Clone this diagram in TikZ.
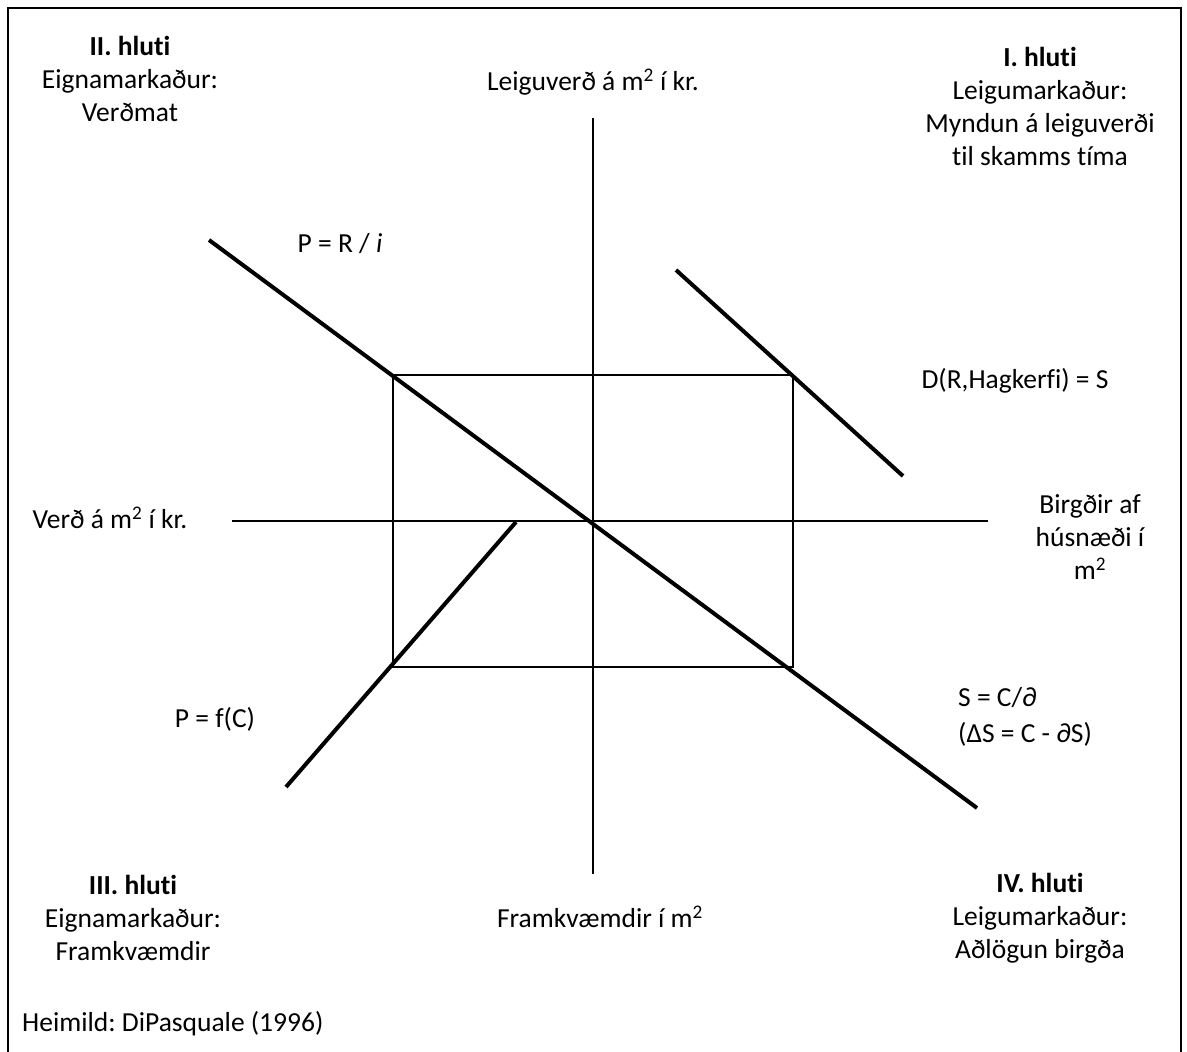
\documentclass[tikz,border=0pt]{standalone}
\usepackage{fontspec}
\setmainfont[Ligatures={NoCommon}]{Carlito}
\frenchspacing
\begin{document}
\begin{tikzpicture}[x=1pt,y=-1pt,
  lbl/.style={inner sep=0pt,align=center,font=\fontsize{27.5}{33}\selectfont},
  lbll/.style={inner sep=0pt,anchor=west,font=\fontsize{27.5}{33}\selectfont},
  axis/.style={line width=1.4pt},
  box/.style={line width=1.4pt},
  curve/.style={line width=4pt},
  frame/.style={line width=2pt}]
\useasboundingbox (0,0) rectangle (1187,1052);
% frame (open at bottom)
\draw[frame] (8,1052) -- (8,8) -- (1181,8) -- (1181,1052);
% axes
\coordinate (vtop) at (593,118);
\coordinate (vbot) at (593,874);
\coordinate (hl) at (232,521);
\coordinate (hr) at (988,521);
\draw[axis] (vtop) -- (vbot);
\draw[axis] (hl) -- (hr);
% rectangle
\coordinate (r1) at (393,375);
\coordinate (r2) at (793,667);
\draw[box] (r1) rectangle (r2);
% thick lines
\coordinate (pa) at (209,240);
\coordinate (pb) at (977,808);
\draw[curve] (pa) -- (pb);
\coordinate (da) at (676,270);
\coordinate (db) at (903,476);
\draw[curve] (da) -- (db);
\coordinate (fa) at (286,787);
\coordinate (fb) at (516,522);
\draw[curve] (fa) -- (fb);
% quadrant labels
\node[lbl] (q2) at (130,79) {\textbf{II. hluti}\\Eignamarkaður:\\Verðmat};
\node[lbl] (q1) at (1040,106) {\textbf{I. hluti}\\Leigumarkaður:\\Myndun á leiguverði\\til skamms tíma};
\node[lbl] (q3) at (133,918) {\textbf{III. hluti}\\Eignamarkaður:\\Framkvæmdir};
\node[lbl] (q4) at (1040,918) {\textbf{IV. hluti}\\Leigumarkaður:\\Aðlögun birgða};
% axis labels
\node[lbl] (ytop) at (593,82) {Leiguverð á m\textsuperscript{2} í kr.};
\node[lbl] (ybot) at (600,917) {Framkvæmdir í m\textsuperscript{2}};
\node[lbl] (xl) at (110,518) {Verð á m\textsuperscript{2} í kr.};
\node[lbl] (xr) at (1090,537) {Birgðir af\\húsnæði í\\m\textsuperscript{2}};
% curve labels
\node[lbl] (lp) at (340,244) {P = R / \textit{i}};
\node[lbl] (ld) at (1015,381) {D(R,Hagkerfi) = S};
\node[lbl] (lf) at (215,719) {P = f(C)};
\node[lbll] (ls1) at (958,698) {S = C/∂};
\node[lbll] (ls2) at (958,734) {(ΔS = C - ∂S)};
\node[lbll] (src) at (22,1024) {Heimild: DiPasquale (1996)};
\end{tikzpicture}
\end{document}
